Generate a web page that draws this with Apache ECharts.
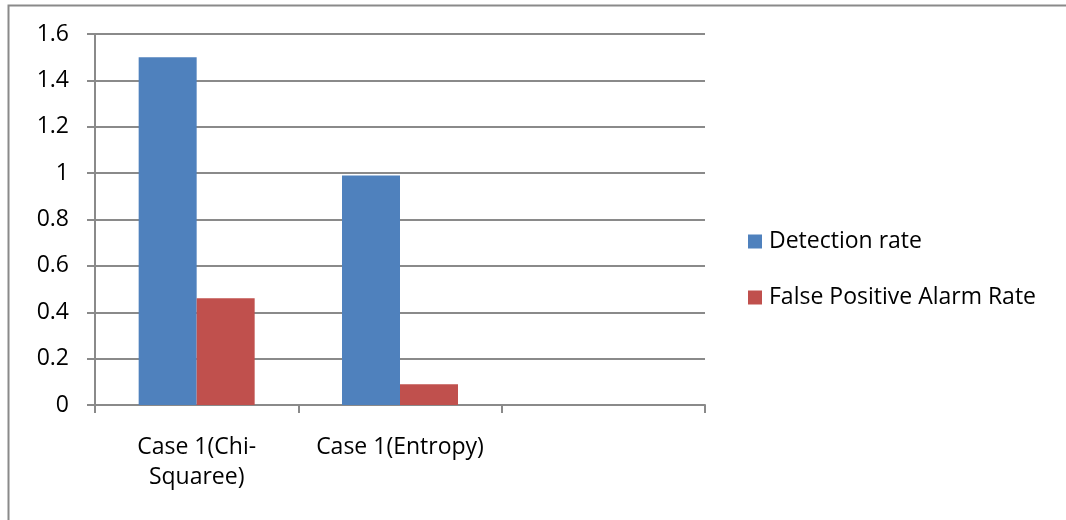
<!DOCTYPE html>
<html>
<head>
<meta charset="utf-8">
<script src="https://cdn.jsdelivr.net/npm/echarts@6/dist/echarts.min.js"></script>
<style>
  html, body { margin: 0; padding: 0; background: #fff; }
  #chart { width: 1066px; height: 520px; }
</style>
</head>
<body>
<div id="chart"></div>
<script>
// Categories (the third slot is intentionally blank)
const categories = ['Case 1(Chi-\nSquaree)', 'Case 1(Entropy)', ''];
// Series values
const detectionRate = [1.5, 0.99, null];
const falsePositiveAlarmRate = [0.46, 0.09, null];
// Value axis range
const yMin = 0, yMax = 1.6, yStep = 0.2;

const FONT = '"Open Sans", "Noto Sans", sans-serif';
const GRAY = '#8a8a8a';

const chart = echarts.init(document.getElementById('chart'), null, { renderer: 'canvas' });

chart.setOption({
  animation: false,
  backgroundColor: '#ffffff',
  textStyle: { fontFamily: FONT, color: '#000' },
  graphic: [{
    type: 'rect',
    left: 6, top: 3,
    shape: { x: 0, y: 0, width: 1100, height: 560 },
    style: { fill: 'none', stroke: GRAY, lineWidth: 2 },
    silent: true, z: -1
  }],
  grid: { left: 95, right: 361, top: 34, bottom: 115, containLabel: false },
  legend: {
    orient: 'vertical',
    left: 743, top: 225,
    icon: 'rect',
    itemWidth: 14, itemHeight: 14,
    itemGap: 33,
    textStyle: { fontFamily: FONT, fontSize: 23, color: '#000', padding: [0, 0, 0, 2] },
    data: ['Detection rate', 'False Positive Alarm Rate']
  },
  xAxis: {
    type: 'category',
    data: categories,
    boundaryGap: true,
    axisLine: { lineStyle: { color: GRAY, width: 2 } },
    axisTick: { show: true, length: 8, alignWithLabel: false, lineStyle: { color: GRAY, width: 2 } },
    axisLabel: { fontFamily: FONT, fontSize: 23, color: '#000', margin: 27, lineHeight: 30, interval: 0 }
  },
  yAxis: {
    type: 'value',
    min: yMin, max: yMax, interval: yStep,
    axisLine: { show: true, lineStyle: { color: GRAY, width: 2 } },
    axisTick: { show: true, length: 8, inside: false, lineStyle: { color: GRAY, width: 2 } },
    splitLine: { show: true, lineStyle: { color: GRAY, width: 2 } },
    axisLabel: {
      fontFamily: FONT, fontSize: 23, color: '#000', margin: 26,
      formatter: v => String(Math.round(v * 10) / 10)
    }
  },
  series: [
    {
      name: 'Detection rate',
      type: 'bar',
      data: detectionRate,
      barWidth: 58,
      barGap: '0%',
      itemStyle: { color: '#4F81BD' }
    },
    {
      name: 'False Positive Alarm Rate',
      type: 'bar',
      data: falsePositiveAlarmRate,
      barWidth: 58,
      barGap: '0%',
      itemStyle: { color: '#C0504D' }
    }
  ]
});
</script>
</body>
</html>
